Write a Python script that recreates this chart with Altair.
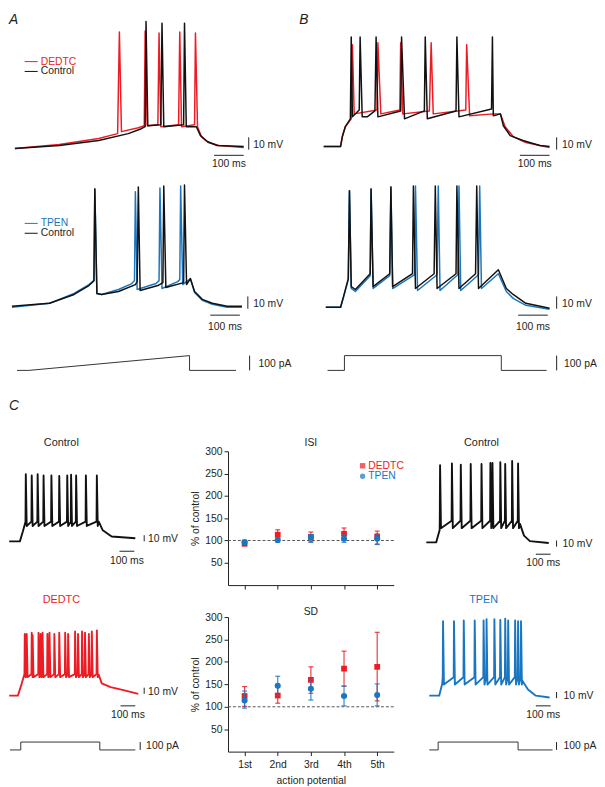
import altair as alt
import pandas as pd

FONT = "Liberation Sans"
INK = "#231f20"
RED = "#ed1c24"
BLUE = "#1a76c0"
BLACK = "#111111"
STIM = "#333333"

# ---------------- A: ramp protocol (t in ms, V in mV) ----------------
a_ded_t = [0, 150, 283, 347, 353, 360, 417, 437, 440, 447, 483, 487, 493, 553, 557, 563, 607, 610, 617, 630, 653, 690, 773]
a_ded_v = [-70, -66.8, -62, -58, 24.4, -56.4, -53.2, -51.6, 25.2, -51.6, -50.8, 23.6, -52.4, -50.8, 24.4, -52.4, -50.8, 23.6, -52.4, -60.4, -65.2, -67.6, -69.2]
a_ctl1_t = [0, 150, 283, 383, 427, 440, 443, 449, 493, 497, 503, 570, 573, 579, 613, 627, 650, 683, 773]
a_ctl1_v = [-70, -67.6, -63.6, -58, -54, -52.4, 33, -51.6, -50.8, 31.6, -52.4, -50.8, 31.6, -52.4, -52.4, -59.6, -64.4, -67.6, -68.4]

a_tpen_t = [-10, 117, 200, 250, 267, 270, 277, 293, 350, 395, 404, 407, 413, 477, 487, 490, 497, 550, 557, 560, 567, 593, 607, 633, 667, 717, 767]
a_tpen_v = [-70.8, -67.6, -59.6, -52.4, -49.2, 25.2, -59.6, -60.4, -56.4, -51.6, -49.2, 22.8, -56.4, -51.6, -49.2, 26, -55.6, -50, -48.4, 27.6, -52.4, -47.6, -58.8, -65.2, -68.4, -70.8, -70.8]
a_ctl2_t = [-10, 117, 200, 250, 267, 270, 277, 293, 350, 407, 413, 417, 423, 483, 500, 503, 510, 570, 573, 580, 593, 607, 633, 667, 717, 767]
a_ctl2_v = [-70, -67.6, -60.4, -53.2, -49.2, 25.2, -59.6, -60.4, -58, -52.4, -50, 26.8, -57.2, -53.2, -50.8, 27.6, -54.8, -50.8, 28.4, -52.4, -47.6, -58, -64.4, -67.6, -70, -70]

a_stim_t = [7, 47, 590, 590, 747]
a_stim_i = [0, 0, 100, 0, 0]

# ---------------- B: step protocol ----------------
b_ded_t = [0, 57, 63, 73, 93, 97, 103, 180, 183, 193, 257, 260, 267, 357, 363, 370, 480, 483, 493, 573, 597, 613, 640, 683, 763]
b_ded_v = [-68.4, -68.4, -60.4, -52.4, -46, 14, -42, -38.8, 15.6, -42, -38.8, 15.6, -42, -39.6, 15.6, -42, -38.8, 14, -43.6, -42, -42, -52.4, -60.4, -65.2, -69.2]
b_ctl1_t = [0, 57, 63, 73, 90, 93, 97, 120, 123, 130, 147, 173, 177, 183, 260, 263, 273, 340, 343, 350, 447, 450, 457, 567, 570, 573, 597, 607, 630, 673, 730, 763]
b_ctl1_v = [-68.4, -68.4, -60.4, -52.4, -46, 20.4, -44.4, -38.8, 20.4, -44.4, -44.4, -39.6, 20.4, -44.4, -39.6, 20.4, -46, -39.6, 20.4, -46, -39.6, 20.4, -44.4, -38, 20.4, -43.6, -42, -51.6, -59.6, -63.6, -67.6, -68.4]

b_tpen_t = [7, 57, 67, 83, 87, 93, 107, 157, 160, 167, 223, 227, 233, 307, 310, 317, 383, 387, 393, 453, 457, 463, 523, 527, 533, 590, 617, 640, 683, 763]
b_tpen_v = [-70.8, -70.8, -62.8, -48.4, 23.6, -55.6, -58, -45.2, 25.2, -55.6, -45.2, 26.8, -55.6, -44.4, 27.6, -57.2, -44.4, 27.6, -57.2, -44.4, 27.6, -57.2, -44.4, 27.6, -55.6, -43.6, -58, -63.6, -69.2, -72.4]
b_ctl2_t = [7, 57, 67, 83, 87, 93, 107, 157, 160, 167, 223, 227, 233, 300, 303, 310, 373, 377, 383, 447, 450, 457, 513, 517, 523, 590, 617, 640, 683, 763]
b_ctl2_v = [-70.8, -70.8, -62, -47.6, 23.6, -54, -56.4, -43.6, 25.2, -54, -43.6, 26.8, -54, -43.6, 27.6, -55.6, -43.6, 27.6, -55.6, -43.6, 27.6, -55.6, -43.6, 27.6, -55.6, -40.4, -55.6, -60.4, -67.6, -71.6]

b_stim_t = [13, 70, 70, 600, 600, 753]
b_stim_i = [0, 0, 100, 100, 0, 0]

# ---------------- C: example sweeps ----------------
cl_ctl_sub_t = [15, 87, 107]
cl_ctl_sub_v = [-70, -70, -54]
cl_ctl_spk_t = [127, 167, 207, 247, 300, 353, 407, 433, 467, 533, 607]
cl_ctl_spk_pk = [39, 37, 39, 37, 37, 36, 37, 38, 37, 37, 37]
cl_ctl_tail_t = [620, 647, 707, 867]
cl_ctl_tail_v = [-38, -52, -62, -65]

cl_ded_sub_t = [15, 73, 100]
cl_ded_sub_v = [-70, -70, -50]
cl_ded_spk_t = [120, 133, 167, 173, 213, 227, 240, 273, 287, 320, 353, 393, 413, 460, 480, 507, 527, 553, 573, 607]
cl_ded_spk_pk = [30, 30, 32, 28, 32, 30, 32, 30, 32, 30, 32, 32, 30, 34, 30, 34, 32, 30, 34, 36]
cl_ded_tail_t = [620, 640, 700, 787, 887]
cl_ded_tail_v = [-36, -50, -56, -61, -67]

cr_ctl_sub_t = [0, 67, 90]
cr_ctl_sub_v = [-70, -70, -50]
cr_ctl_spk_t = [93, 173, 233, 300, 373, 433, 447, 500, 533, 580, 620]
cr_ctl_spk_pk = [55, 58, 56, 57, 57, 59, 59, 60, 57, 62, 58]
cr_ctl_tail_t = [633, 660, 700, 827]
cr_ctl_tail_v = [-40, -59, -68, -71]

cr_tpen_sub_t = [0, 67, 87]
cr_tpen_sub_v = [-70, -70, -51]
cr_tpen_spk_t = [93, 167, 233, 307, 367, 387, 440, 480, 513, 533, 580, 600, 620]
cr_tpen_spk_pk = [51, 51, 52, 52, 52, 54, 54, 53, 55, 52, 52, 51, 51]
cr_tpen_tail_t = [627, 667, 720, 813]
cr_tpen_tail_v = [-45, -60, -70, -73]

cl_stim_t = [20, 93, 93, 627, 627, 867]
cr_stim_t = [0, 60, 60, 600, 600, 833]
c_stim_i = [0, 0, 100, 100, 0, 0]

# ---------------- C: summary (% of control) ----------------
ap_labels = ["1st", "2nd", "3rd", "4th", "5th"]
isi_ded_mean = [93, 113, 108, 115, 108]
isi_ded_lo = [88, 103, 97, 103, 92]
isi_ded_hi = [98, 124, 119, 128, 121]
isi_tpen_mean = [96, 101, 107, 104, 104]
isi_tpen_lo = [91, 96, 96, 96, 91]
isi_tpen_hi = [101, 106, 113, 115, 115]

sd_ded_mean = [124, 125, 160, 185, 189]
sd_ded_lo = [101, 108, 130, 146, 113]
sd_ded_hi = [145, 145, 189, 224, 266]
sd_tpen_mean = [114, 147, 140, 124, 126]
sd_tpen_lo = [97, 125, 115, 102, 102]
sd_tpen_hi = [135, 168, 161, 146, 151]

SCALE_MS = 100
SCALE_MV = 10
SCALE_PA = 100


def spiking(sub_t, sub_v, spk_t, spk_pk, pre, post, tail_t, tail_v):
    t, v = list(sub_t), list(sub_v)
    for s, pk in zip(spk_t, spk_pk):
        t += [s - 2, s, s + 6]
        v += [pre, pk, post]
    return t + list(tail_t), v + list(tail_v)


class Frame:
    """A panel whose cell is `rect` (page pixels); data are placed with a fixed ms/mV calibration."""

    def __init__(self, rect, x0, px_t, y0, px_v, base):
        xL, xR, yT, yB = rect
        self.w = xR - xL
        self.h = yB - yT
        self.xs = alt.Scale(domain=[(xL - x0) / px_t, (xR - x0) / px_t], nice=False, zero=False)
        self.ys = alt.Scale(domain=[base + (y0 - yB) / px_v, base + (y0 - yT) / px_v], nice=False, zero=False)
        self.layers = []

    def X(self, f="t"):
        return alt.X(f"{f}:Q", scale=self.xs, axis=None)

    def Y(self, f="v"):
        return alt.Y(f"{f}:Q", scale=self.ys, axis=None)

    def line(self, t, v, color, width=1.5):
        df = pd.DataFrame({"t": t, "v": v, "i": list(range(len(t)))})
        self.layers.append(
            alt.Chart(df).mark_line(color=color, strokeWidth=width, strokeJoin="round")
            .encode(x=self.X(), y=self.Y(), order="i:Q"))

    def rule(self, t, t2, v, v2, color=INK, width=1):
        df = pd.DataFrame({"t": [t], "t2": [t2], "v": [v], "v2": [v2]})
        self.layers.append(
            alt.Chart(df).mark_rule(color=color, strokeWidth=width)
            .encode(x=self.X(), x2="t2:Q", y=self.Y(), y2="v2:Q"))

    def text(self, t, v, label, align="left", color=INK, size=10.5, style="normal", baseline="middle"):
        df = pd.DataFrame({"t": [t], "v": [v], "label": [label]})
        self.layers.append(
            alt.Chart(df).mark_text(align=align, baseline=baseline, font=FONT, fontSize=size,
                                    fontStyle=style, color=color)
            .encode(x=self.X(), y=self.Y(), text="label:N"))

    def vbar(self, t, v0, tx):
        self.rule(t, t, v0, v0 + SCALE_MV)
        self.text(tx, v0 + SCALE_MV / 2 - 1.5, f"{SCALE_MV} mV")

    def hbar(self, t0, v, tv):
        self.rule(t0, t0 + SCALE_MS, v, v)
        self.text(t0 + SCALE_MS / 2, tv, f"{SCALE_MS} ms", align="center")

    def chart(self):
        return alt.layer(*self.layers).properties(width=self.w, height=self.h)


def blank(w, h):
    return alt.Chart(pd.DataFrame({"t": [0]})).mark_point(opacity=0).encode(
        x=alt.X("t:Q", axis=None), y=alt.Y("t:Q", axis=None)).properties(width=w, height=h)


# grid columns (page px): 8-231, 231-399, 399-597
C0, C1, C2, C3 = 8, 231, 399, 597

# ---------- row 1 ----------
A1 = Frame((C0, C1, 8, 170), 15, 0.3, 145, 1.25, -70)
A1.line(a_ded_t, a_ded_v, RED)
A1.line(a_ctl1_t, a_ctl1_v, BLACK)
A1.text(-20, 39.5, "A", size=14, style="italic", baseline="top")
A1.rule(33, 77, 0.4, 0.4, RED)
A1.text(87, 0.4, "DEDTC", color=RED, size=10.5)
A1.rule(33, 77, -7.6, -7.6, BLACK)
A1.text(87, -7.6, "Control", size=10.5)
A1.vbar(790, -71, 805)
A1.hbar(673, -75.6, -82.5)

B1 = Frame((C1, C2, 8, 170), 328, 0.3, 145, 1.25, -70)
B1.line(b_ded_t, b_ded_v, RED)
B1.line(b_ctl1_t, b_ctl1_v, BLACK)
B1.text(-83, 39.5, "B", size=14, style="italic", baseline="top")
B1.vbar(787, -71, 805)
B1.hbar(663, -75.6, -82.5)

# ---------- row 2 ----------
A2 = Frame((C0, C1, 170, 335), 15, 0.3, 305, 1.25, -70)
A2.line(a_tpen_t, a_tpen_v, BLUE)
A2.line(a_ctl2_t, a_ctl2_v, BLACK)
A2.rule(33, 77, -2.8, -2.8, BLUE)
A2.text(87, -2.8, "TPEN", color=BLUE, size=10.5)
A2.rule(33, 77, -10.8, -10.8, BLACK)
A2.text(87, -10.8, "Control", size=10.5)
A2.vbar(787, -72, 805)
A2.hbar(660, -77.2, -86.5)

B2 = Frame((C1, C2, 170, 335), 328, 0.3, 305, 1.25, -70)
B2.line(b_tpen_t, b_tpen_v, BLUE)
B2.line(b_ctl2_t, b_ctl2_v, BLACK)
B2.vbar(787, -72, 805)
B2.hbar(657, -77.2, -86.5)

# ---------- row 3 (current) ----------
A3 = Frame((C0, C1, 335, 451.7), 15, 0.3, 370, 0.15, 0)
A3.line(a_stim_t, a_stim_i, STIM, 1)
A3.rule(793, 793, 0, SCALE_PA)
A3.text(823, 45, f"{SCALE_PA} pA")

B3 = Frame((C1, C2, 335, 451.7), 328, 0.3, 370, 0.15, 0)
B3.line(b_stim_t, b_stim_i, STIM, 1)
B3.rule(787, 787, 0, SCALE_PA)
B3.text(812, 45, f"{SCALE_PA} pA")

# ---------- C left column ----------
L1 = Frame((C0, C1, 451.7, 587.3), 7, 0.15, 543, 0.625, -70)
t, v = spiking(cl_ctl_sub_t, cl_ctl_sub_v, cl_ctl_spk_t, cl_ctl_spk_pk, -38, -45, cl_ctl_tail_t, cl_ctl_tail_v)
L1.line(t, v, BLACK, 1.9)
L1.text(13, 149, "C", size=14, style="italic")
L1.text(367, 90, "Control", align="center", size=11)
L1.vbar(927, -70, 953)
L1.hbar(760, -86, -101.5)

L2 = Frame((C0, C1, 587.3, 619.3), 7, 0.15, 699, 0.625, -70)
t, v = spiking(cl_ded_sub_t, cl_ded_sub_v, cl_ded_spk_t, cl_ded_spk_pk, -35, -40, cl_ded_tail_t, cl_ded_tail_v)
L2.line(t, v, RED, 1.9)
L2.text(367, 85, "DEDTC", align="center", color=RED, size=11)
L2.vbar(927, -67, 953)
L2.hbar(767, -86.5, -101)

L3 = Frame((C0, C1, 619.3, 755.7), 7, 0.15, 754, 0.08, 0)
L3.line(cl_stim_t, c_stim_i, STIM, 1)
L3.rule(900, 900, 0, SCALE_PA)
L3.text(940, 45, f"{SCALE_PA} pA")

# ---------- C right column ----------
R1 = Frame((C2, C3, 451.7, 587.3), 432, 0.15, 544, 0.625, -70)
t, v = spiking(cr_ctl_sub_t, cr_ctl_sub_v, cr_ctl_spk_t, cr_ctl_spk_pk, -35, -47, cr_ctl_tail_t, cr_ctl_tail_v)
R1.line(t, v, BLACK, 1.9)
R1.text(373, 91.6, "Control", align="center", size=11)
R1.vbar(880, -77, 920)
R1.hbar(740, -89.2, -103.6)

R2 = Frame((C2, C3, 587.3, 619.3), 435, 0.15, 699, 0.625, -70)
t, v = spiking(cr_tpen_sub_t, cr_tpen_sub_v, cr_tpen_spk_t, cr_tpen_spk_pk, -40, -52, cr_tpen_tail_t, cr_tpen_tail_v)
R2.line(t, v, BLUE, 1.9)
R2.text(367, 85, "TPEN", align="center", color=BLUE, size=11)
R2.vbar(860, -74, 907)
R2.hbar(720, -86.5, -101)

R3 = Frame((C2, C3, 619.3, 755.7), 435, 0.15, 754, 0.08, 0)
R3.line(cr_stim_t, c_stim_i, STIM, 1)
R3.rule(860, 860, 0, SCALE_PA)
R3.text(907, 45, f"{SCALE_PA} pA")


# ---------- summary panels ----------
def stat_chart(title, dm, dl, dh, tm, tl, th, with_labels, legend, height, title_offset):
    pos = list(range(1, len(ap_labels) + 1))
    xs = alt.Scale(domain=[0.5, len(ap_labels) + 0.5], nice=False, zero=False)
    ys = alt.Scale(domain=[0, 300], nice=False)
    lab_expr = "[" + ",".join(f"'{s}'" for s in ap_labels) + "][datum.value - 1]"
    xkw = dict(values=pos, labelExpr=lab_expr, tickSize=4, tickColor=INK, domainColor=INK,
               labelFont=FONT, labelFontSize=10.5, labelColor=INK, labelPadding=4, grid=False,
               labels=with_labels, titleFont=FONT, titleFontSize=10.5, titleFontWeight="normal",
               titleColor=INK, titlePadding=6, title="action potential" if with_labels else "")
    ykw = dict(values=[50, 100, 150, 200, 250, 300], tickSize=4, tickColor=INK, domainColor=INK,
               labelFont=FONT, labelFontSize=10.5, labelColor=INK, labelPadding=2, grid=False,
               title="% of control", titleFont=FONT, titleFontSize=10.5, titleFontWeight="normal",
               titleColor=INK, titlePadding=4)

    def X(f="pos"):
        return alt.X(f"{f}:Q", scale=xs, axis=alt.Axis(**xkw))

    def Y(f):
        return alt.Y(f"{f}:Q", scale=ys, axis=alt.Axis(**ykw))

    layers = [alt.Chart(pd.DataFrame({"val": [100]})).mark_rule(color="#555555", strokeDash=[3, 2], strokeWidth=1)
              .encode(y=Y("val"))]
    for m, lo, hi, col, shape, size in [(dm, dl, dh, RED, "square", 34), (tm, tl, th, BLUE, "circle", 38)]:
        df = pd.DataFrame({"pos": pos, "m": m, "lo": lo, "hi": hi})
        base = alt.Chart(df)
        layers.append(base.mark_rule(color=col, strokeWidth=1.2, opacity=0.85).encode(x=X(), y=Y("lo"), y2="hi:Q"))
        layers.append(base.mark_tick(color=col, orient="horizontal", size=5, thickness=1.2, opacity=0.85)
                      .encode(x=X(), y=Y("lo")))
        layers.append(base.mark_tick(color=col, orient="horizontal", size=5, thickness=1.2, opacity=0.85)
                      .encode(x=X(), y=Y("hi")))
        layers.append(base.mark_point(shape=shape, filled=True, size=size, color=col, opacity=1)
                      .encode(x=X(), y=Y("m")))
    if legend:
        leg = pd.DataFrame({"pos": [4.56, 4.56], "val": [267.5, 244.0], "lx": [4.73, 4.73],
                            "label": ["DEDTC", "TPEN"]})
        layers.append(alt.Chart(leg.iloc[[0]]).mark_point(shape="square", filled=True, size=30, color=RED)
                      .encode(x=X(), y=Y("val")))
        layers.append(alt.Chart(leg.iloc[[1]]).mark_point(shape="circle", filled=True, size=30, color=BLUE)
                      .encode(x=X(), y=Y("val")))
        layers.append(alt.Chart(leg.iloc[[0]]).mark_text(align="left", baseline="middle", font=FONT,
                                                         fontSize=10.5, color=RED)
                      .encode(x=X("lx"), y=Y("val"), text="label:N"))
        layers.append(alt.Chart(leg.iloc[[1]]).mark_text(align="left", baseline="middle", font=FONT,
                                                         fontSize=10.5, color=BLUE)
                      .encode(x=X("lx"), y=Y("val"), text="label:N"))
    return alt.layer(*layers).properties(
        width=C2 - C1, height=height,
        title=alt.TitleParams(title, font=FONT, fontSize=10.5, fontWeight="normal", color=INK,
                              offset=title_offset, anchor="middle"))


ISI = stat_chart("ISI", isi_ded_mean, isi_ded_lo, isi_ded_hi, isi_tpen_mean, isi_tpen_lo, isi_tpen_hi,
                 False, True, 135.6, -2)
SD = stat_chart("SD", sd_ded_mean, sd_ded_lo, sd_ded_hi, sd_tpen_mean, sd_tpen_lo, sd_tpen_hi,
                True, False, 136.4, -5)

cells = [
    A1.chart(), B1.chart(), blank(C3 - C2, 162),
    A2.chart(), B2.chart(), blank(C3 - C2, 165),
    A3.chart(), B3.chart(), blank(C3 - C2, 116.7),
    L1.chart(), ISI, R1.chart(),
    L2.chart(), blank(C2 - C1, 32), R2.chart(),
    L3.chart(), SD, R3.chart(),
]

chart = alt.concat(
    *cells, columns=3, spacing=0, bounds="flush",
).resolve_scale(x="independent", y="independent").properties(
    padding=0, background="white").configure_view(stroke=None)

chart.save("out.html", embed_options={"renderer": "svg", "actions": False})
